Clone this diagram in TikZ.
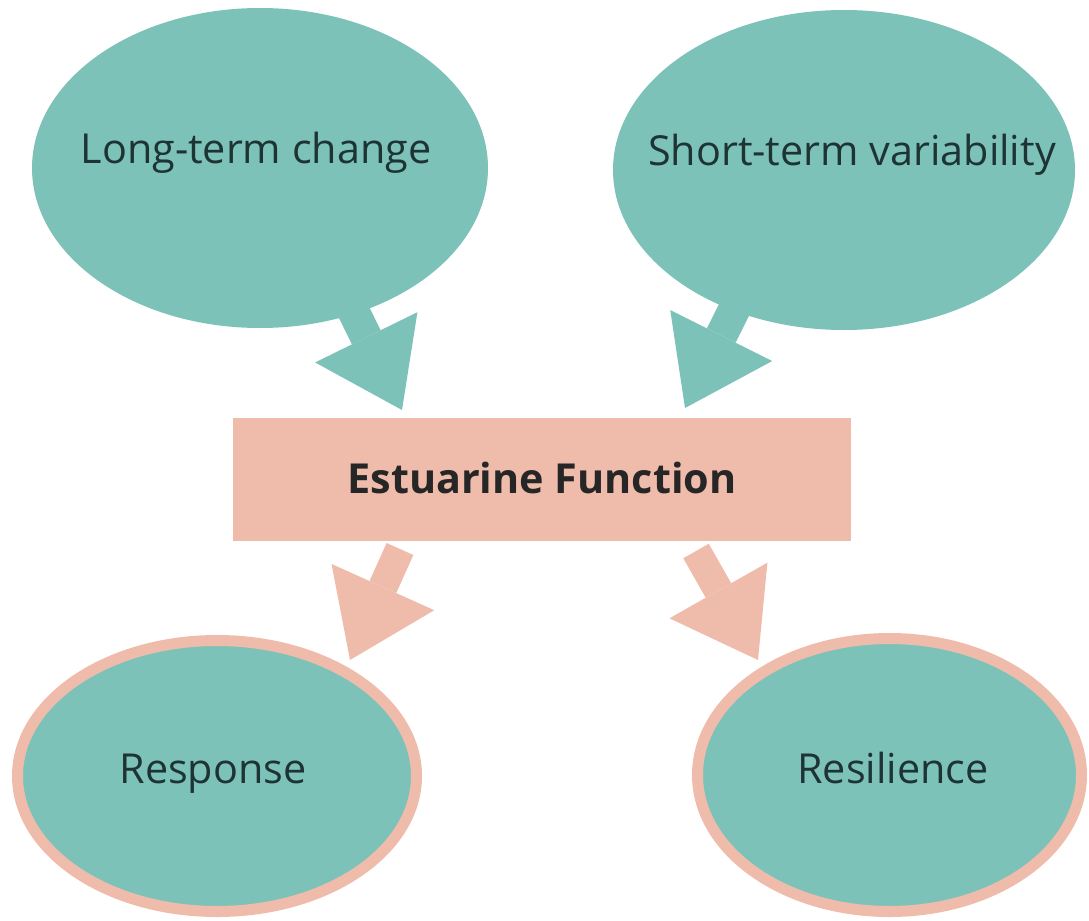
\documentclass[tikz,border=0pt]{standalone}
\usepackage{fontspec}
\setmainfont{Open Sans}
\usetikzlibrary{shapes.geometric,arrows.meta}
\definecolor{tealfill}{RGB}{125,194,185}
\definecolor{salmon}{RGB}{239,188,171}
\definecolor{txt}{RGB}{30,52,52}
\begin{document}
\begin{tikzpicture}[x=0.75pt,y=-0.75pt,
  bubble/.style={ellipse,fill=tealfill,draw=none,inner sep=0pt},
  ringbubble/.style={ellipse,fill=tealfill,draw=salmon,line width=8.25pt,inner sep=0pt},
  funcbox/.style={rectangle,fill=salmon,draw=none,inner sep=0pt,minimum width=463.5pt,minimum height=92.25pt},
  lbl/.style={anchor=base,inner sep=0pt,text=txt,font=\fontsize{31pt}{36pt}\selectfont},
  tealarrow/.style={draw=tealfill,line width=24pt,line cap=butt,-{Triangle[length=60.75pt,width=85.5pt,line width=0pt]}},
  salmonarrow/.style={draw=salmon,line width=22pt,line cap=butt,-{Triangle[length=60pt,width=84.5pt,line width=0pt]}}
]
\useasboundingbox (0,0) rectangle (1089,921);
% arrow coordinates
\coordinate (a1s) at (344,292);
\coordinate (a1e) at (402,410);
\coordinate (a2s) at (743,292);
\coordinate (a2e) at (685,408);
\coordinate (a3s) at (400,549);
\coordinate (a3e) at (350,660);
\coordinate (a4s) at (696,551);
\coordinate (a4e) at (758,660);
% top arrows (drawn first, shafts hidden under bubbles)
\draw[tealarrow] (a1s) -- (a1e);
\draw[tealarrow] (a2s) -- (a2e);
% nodes
\node[bubble,minimum width=342pt,minimum height=240pt] (long) at (260,168) {};
\node[bubble,minimum width=346.5pt,minimum height=240pt] (short) at (844,170) {};
\node[funcbox] (func) at (542,479.5) {};
\node[ringbubble,minimum width=299.25pt,minimum height=203.25pt] (resp) at (217,776) {};
\node[ringbubble,minimum width=288pt,minimum height=204.75pt] (resil) at (889.5,775) {};
% labels
\node[lbl] (tlong) at (256,163) {Long-term change};
\node[lbl] (tshort) at (852,165) {Short-term variability};
\node[lbl,font=\fontsize{31pt}{36pt}\selectfont\bfseries,text=black!85] (tfunc) at (542,493) {Estuarine Function};
\node[lbl] (tresp) at (213,783) {Response};
\node[lbl] (tresil) at (893,783) {Resilience};
% bottom arrows
\draw[salmonarrow] (a3s) -- (a3e);
\draw[salmonarrow] (a4s) -- (a4e);
\end{tikzpicture}
\end{document}
